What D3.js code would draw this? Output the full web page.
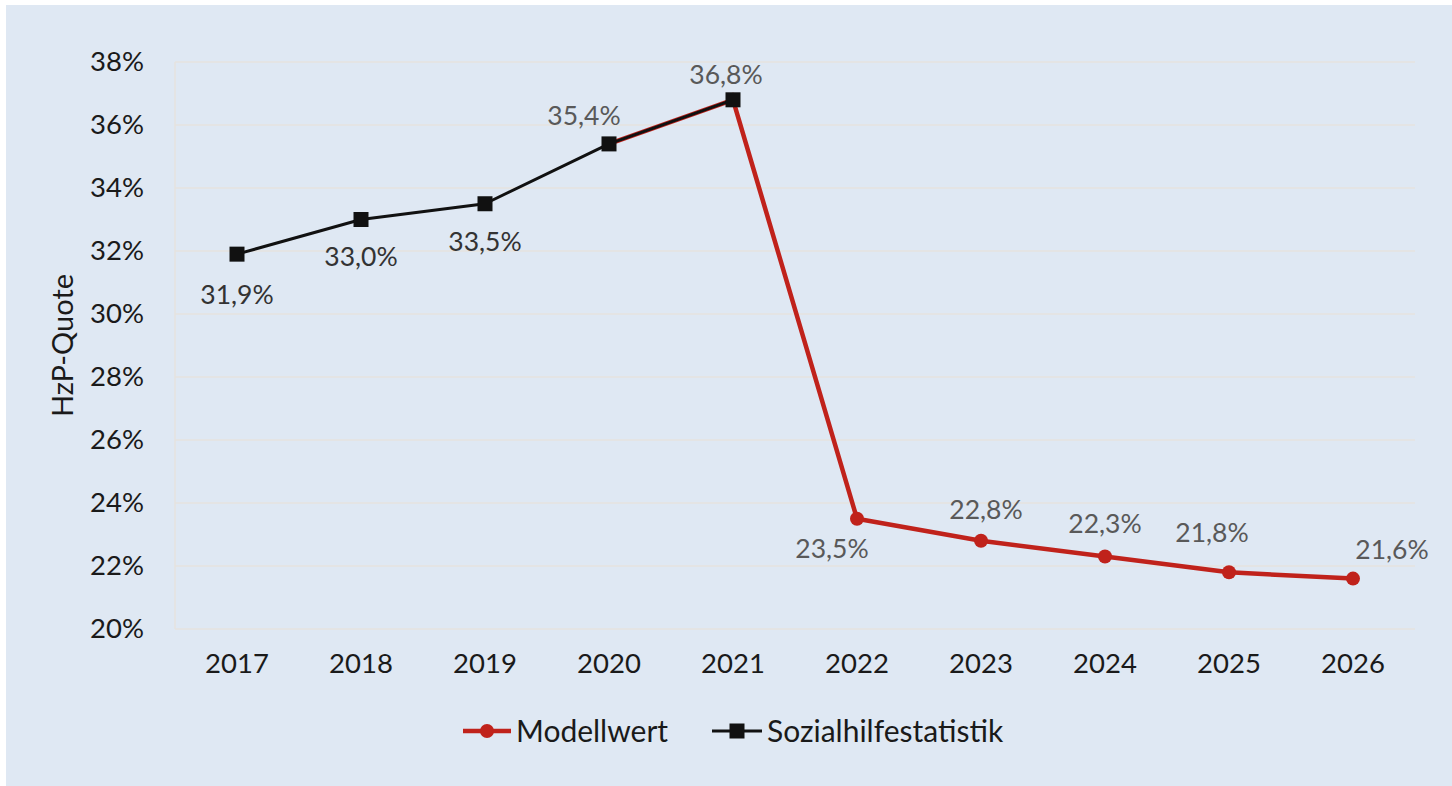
<!DOCTYPE html>
<html>
<head>
<meta charset="utf-8">
<script src="https://cdn.jsdelivr.net/npm/d3@7"></script>
<style>
  body { margin: 0; background: #fff; }
  svg { display: block; font-family: Lato, "Open Sans", sans-serif; }
</style>
</head>
<body>
<div id="chart"></div>
<script>
const years = ["2017","2018","2019","2020","2021","2022","2023","2024","2025","2026"];
const yTicks = [20,22,24,26,28,30,32,34,36,38];

// Modellwert (red) 2020..2026
const modellYears = ["2020","2021","2022","2023","2024","2025","2026"];
const modellValues = [35.4, 36.8, 23.5, 22.8, 22.3, 21.8, 21.6];
// Sozialhilfestatistik (black) 2017..2021
const statYears = ["2017","2018","2019","2020","2021"];
const statValues = [31.9, 33.0, 33.5, 35.4, 36.8];

const width = 1452, height = 786;
const margin = {top: 62, right: 37, bottom: 157, left: 175};

const svg = d3.select("#chart").append("svg")
    .attr("width", width)
    .attr("height", height);

svg.append("rect")
    .attr("x", 6).attr("y", 5)
    .attr("width", width - 6).attr("height", height - 5)
    .attr("fill", "#dfe8f3");

const x = d3.scaleBand()
    .domain(years)
    .range([margin.left, width - margin.right]);

const y = d3.scaleLinear()
    .domain([20, 38])
    .range([height - margin.bottom, margin.top]);

const cx = d => x(d) + x.bandwidth() / 2;

// grid
svg.append("g")
    .selectAll("line")
    .data(yTicks)
    .join("line")
      .attr("x1", margin.left)
      .attr("x2", width - margin.right)
      .attr("y1", d => y(d))
      .attr("y2", d => y(d))
      .attr("stroke", "#e6e3df")
      .attr("stroke-width", 1.5);

svg.append("line")
    .attr("x1", margin.left).attr("x2", margin.left)
    .attr("y1", y(38)).attr("y2", y(20))
    .attr("stroke", "#e6e3df")
    .attr("stroke-width", 1.5);

// y axis
const yAxis = svg.append("g")
    .attr("transform", `translate(${margin.left},0)`)
    .call(d3.axisLeft(y).tickValues(yTicks).tickSize(0).tickPadding(31).tickFormat(d => d + "%"));
yAxis.select(".domain").remove();
yAxis.selectAll("text")
    .attr("font-size", 27.5)
    .attr("font-family", "Lato, sans-serif")
    .attr("fill", "#1a1a1a");

// x axis
const xAxis = svg.append("g")
    .attr("transform", `translate(0,${y(20)})`)
    .call(d3.axisBottom(x).tickSize(0).tickPadding(24));
xAxis.select(".domain").remove();
xAxis.selectAll("text")
    .attr("font-size", 27.5)
    .attr("font-family", "Lato, sans-serif")
    .attr("fill", "#1a1a1a");

svg.append("text")
    .attr("transform", `translate(73,${(y(20) + y(38)) / 2}) rotate(-90)`)
    .attr("text-anchor", "middle")
    .attr("font-size", 29)
    .attr("fill", "#1a1a1a")
    .text("HzP-Quote");

const line = d3.line().x(d => cx(d[0])).y(d => y(d[1]));

const modell = modellYears.map((d, i) => [d, modellValues[i]]);
const stat = statYears.map((d, i) => [d, statValues[i]]);

svg.append("path")
    .datum(modell)
    .attr("d", line)
    .attr("fill", "none")
    .attr("stroke", "#c0221b")
    .attr("stroke-width", 4.5)
    .attr("stroke-linejoin", "round");

svg.append("g")
    .selectAll("circle")
    .data(modell)
    .join("circle")
      .attr("cx", d => cx(d[0]))
      .attr("cy", d => y(d[1]))
      .attr("r", 7)
      .attr("fill", "#c0221b");

svg.append("path")
    .datum(stat)
    .attr("d", line)
    .attr("fill", "none")
    .attr("stroke", "#111")
    .attr("stroke-width", 3)
    .attr("stroke-linejoin", "round");

svg.append("g")
    .selectAll("rect")
    .data(stat)
    .join("rect")
      .attr("x", d => cx(d[0]) - 7.5)
      .attr("y", d => y(d[1]) - 7.5)
      .attr("width", 15)
      .attr("height", 15)
      .attr("fill", "#111");

// data labels: offsets from the point
const fmt = v => d3.format(".1f")(v).replace(".", ",") + "%";
const statLabelOffsets = [[0, 43], [0, 40], [0, 41], [-25, -26], [-7, -23]];
const modellLabelOffsets = [[-25, 33], [5, -29], [0, -30], [-17, -37], [39, -26]];

svg.append("g")
    .selectAll("text")
    .data(stat.slice(0, 3).map((d, i) => [d, statLabelOffsets[i], "#333"])
      .concat(stat.slice(3).map((d, i) => [d, statLabelOffsets[i + 3], "#595959"]))
      .concat(modell.slice(2).map((d, i) => [d, modellLabelOffsets[i], "#595959"])))
    .join("text")
      .attr("x", d => cx(d[0][0]) + d[1][0])
      .attr("y", d => y(d[0][1]) + d[1][1])
      .attr("text-anchor", "middle")
      .attr("dominant-baseline", "middle")
      .attr("font-size", 26.5)
      .attr("fill", d => d[2])
      .text(d => fmt(d[0][1]));

// legend
const legend = svg.append("g").attr("transform", "translate(0,731)");
legend.append("line").attr("x1", 463).attr("x2", 511).attr("stroke", "#c0221b").attr("stroke-width", 4.5);
legend.append("circle").attr("cx", 487).attr("r", 7).attr("fill", "#c0221b");
legend.append("text").attr("x", 516).attr("dy", "0.35em").attr("font-size", 30).attr("fill", "#1a1a1a").text("Modellwert");
legend.append("line").attr("x1", 712).attr("x2", 762).attr("stroke", "#111").attr("stroke-width", 3);
legend.append("rect").attr("x", 729.5).attr("y", -7.5).attr("width", 15).attr("height", 15).attr("fill", "#111");
legend.append("text").attr("x", 767).attr("dy", "0.35em").attr("font-size", 30).attr("fill", "#1a1a1a").text("Sozialhilfestatistik");
</script>
</body>
</html>
